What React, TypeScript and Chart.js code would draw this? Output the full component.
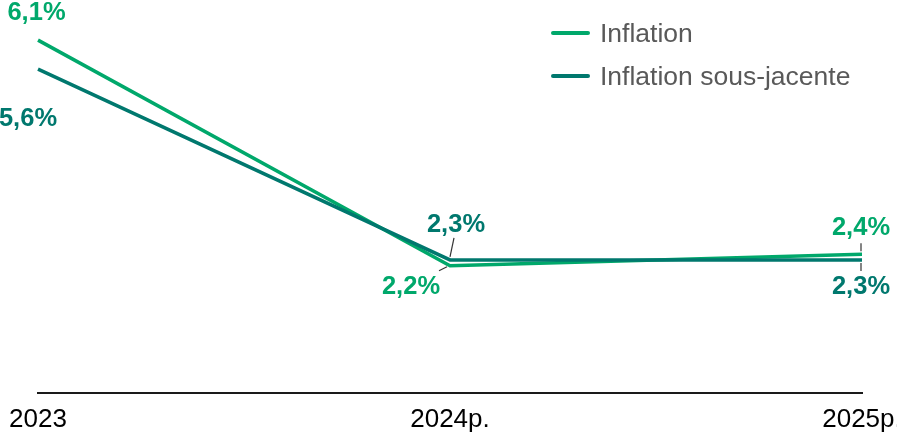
import React, { useEffect, useRef } from "react";
import { Chart, registerables } from "chart.js";

Chart.register(...registerables);

const categories = ["2023", "2024p.", "2025p."];
const inflation = [6.1, 2.2, 2.4];
const inflationSousJacente = [5.6, 2.3, 2.3];
const seriesNames = ["Inflation", "Inflation sous-jacente"];
const valueLabels = [
  ["6,1%", "2,2%", "2,4%"],
  ["5,6%", "2,3%", "2,3%"],
];

const GREEN = "#00A86B";
const TEAL = "#00786E";
const FONT = "'Liberation Sans', Arial, Helvetica, sans-serif";

// label offsets (dx, dy) relative to each point, and leader lines
const labelOffsets = [
  [[-1.5, -27], [-39, 21], [-1, -26]],
  [[-10, 50], [6, -35], [-1, 27]],
];
const leaders: (number[] | null)[][] = [
  [null, [-11, 5, -3, 1], [-1, -11, -1, -3]],
  [null, [4, -22, 0, -3], [-1, 3, -1, 11]],
];

const overlayPlugin = {
  id: "overlay",
  afterDatasetsDraw(chart: any) {
    const ctx = chart.ctx;
    ctx.save();
    const colors = [GREEN, TEAL];
    [0, 1].forEach((di) => {
      const meta = chart.getDatasetMeta(di);
      meta.data.forEach((pt: any, i: number) => {
        const ld = leaders[di][i];
        if (ld) {
          ctx.strokeStyle = "#333333";
          ctx.lineWidth = 1.2;
          ctx.beginPath();
          ctx.moveTo(pt.x + ld[0], pt.y + ld[1]);
          ctx.lineTo(pt.x + ld[2], pt.y + ld[3]);
          ctx.stroke();
        }
        const [dx, dy] = labelOffsets[di][i];
        ctx.fillStyle = colors[di];
        ctx.font = `bold 25.5px ${FONT}`;
        ctx.textAlign = "center";
        ctx.textBaseline = "middle";
        ctx.fillText(valueLabels[di][i], pt.x + dx, pt.y + dy);
      });
    });
    // legend
    const legendY = [33, 76];
    [0, 1].forEach((di) => {
      ctx.strokeStyle = colors[di];
      ctx.lineWidth = 4;
      ctx.lineCap = "round";
      ctx.beginPath();
      ctx.moveTo(553, legendY[di]);
      ctx.lineTo(588, legendY[di]);
      ctx.stroke();
      ctx.fillStyle = "#595959";
      ctx.font = `26.5px ${FONT}`;
      ctx.textAlign = "left";
      ctx.textBaseline = "middle";
      ctx.fillText(seriesNames[di], 600, legendY[di] + 1.5);
    });
    ctx.restore();
  },
};

export default function App() {
  const ref = useRef<HTMLCanvasElement>(null);
  useEffect(() => {
    if (!ref.current) return;
    const chart = new Chart(ref.current, {
      type: "line",
      data: {
        labels: categories,
        datasets: [
          {
            label: seriesNames[0],
            data: inflation,
            borderColor: GREEN,
            backgroundColor: GREEN,
            borderWidth: 3.5,
            pointRadius: 0,
            tension: 0,
            order: 1,
          },
          {
            label: seriesNames[1],
            data: inflationSousJacente,
            borderColor: TEAL,
            backgroundColor: TEAL,
            borderWidth: 3.5,
            pointRadius: 0,
            tension: 0,
            order: 0,
          },
        ],
      },
      options: {
        animation: false,
        responsive: false,
        layout: { padding: { top: 17, left: 38, right: 35, bottom: 0 } },
        plugins: { legend: { display: false }, tooltip: { enabled: false } },
        scales: {
          x: {
            offset: false,
            grid: { display: false, drawTicks: false },
            border: { display: true, color: "#1a1a1a", width: 2 },
            ticks: {
              color: "#000000",
              font: { size: 26, family: FONT },
              padding: 11,
              maxRotation: 0,
              autoSkip: false,
            },
            afterFit: (scale: any) => {
              scale.paddingLeft = 0;
              scale.paddingRight = 0;
              scale.height = 40;
            },
          },
          y: {
            display: false,
            min: 0,
            max: 6.5,
          },
        },
      },
      plugins: [overlayPlugin],
    });
    return () => chart.destroy();
  }, []);
  return (
    <div style={{ position: "absolute", left: 0, top: 0, width: 897, height: 433, background: "#fff" }}>
      <canvas ref={ref} width={897} height={433} />
    </div>
  );
}
